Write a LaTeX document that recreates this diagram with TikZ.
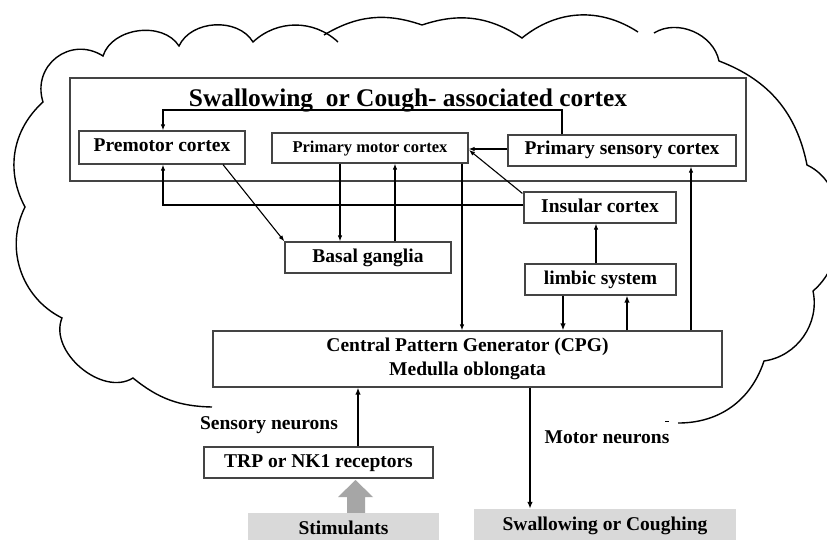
\documentclass[tikz,border=0pt]{standalone}
\usepackage{fontspec}
\setmainfont{Liberation Serif}
\usetikzlibrary{arrows.meta}
\definecolor{boxline}{HTML}{444444}
\definecolor{lightfill}{HTML}{D9D9D9}
\definecolor{arrowfill}{HTML}{A6A6A6}
\begin{document}
\begin{tikzpicture}[x=1pt,y=-1pt,
  cloudline/.style={line width=1.4pt,black},
  boxnode/.style={draw=boxline,line width=1.2pt,inner sep=0pt,
    font=\fontsize{19.5}{25}\selectfont\bfseries,text height=13pt,text depth=4pt},
  graybox/.style={fill=lightfill,inner sep=0pt,
    font=\fontsize{19.5}{25}\selectfont\bfseries,text height=13pt,text depth=4pt},
  lbl/.style={inner sep=0pt,font=\fontsize{19.5}{25}\selectfont\bfseries},
  conn/.style={line width=1.1pt,-{Latex[length=6pt,width=4.5pt]}},
  thickconn/.style={line width=1.8pt,-{Latex[length=7pt,width=5.5pt]}},
  plainline/.style={line width=1.1pt}]
\useasboundingbox (0,0) rectangle (827,540);
\clip (0,0) rectangle (827,540);
\fill[white] (0,0) rectangle (827,540);

% cloud
\draw[cloudline] (212,407) to[bend left=19] (133,378) to[bend left=72] (62,318)
  to[bend left=45] (25,207) to[bend left=38] (43,102)
  to[bend left=70,looseness=1.3] (103,56) to[bend left=65] (179,46)
  to[bend left=62] (253,42) to[bend left=43] (338,42);
\draw[cloudline] (324,35) to[bend left=25] (422,25) to[bend left=26] (522,38)
  to[bend left=36] (638,32);
\draw[cloudline] (654,33) to[bend left=55] (719,61) to[bend left=29] (807,165)
  .. controls (850,185) and (850,260) .. (813,291)
  to[bend left=47] (764,361) to[bend left=36] (678,423);
\draw[line width=0.8pt] (665,421) -- (669,421);

% cortex frame
\node[draw=boxline,line width=1.2pt,minimum width=676pt,minimum height=103pt,inner sep=0pt] (ctx) at (408,129.5) {};
\node[inner sep=0pt,font=\fontsize{25.4}{30}\selectfont\bfseries,anchor=base] (title) at (408,107) {Swallowing\ \ or Cough- associated cortex};

% boxes
\node[boxnode,minimum width=166pt,minimum height=33pt] (pm) at (162,147.5) {Premotor cortex};
\node[boxnode,minimum width=196pt,minimum height=30pt,font=\fontsize{16.5}{20}\selectfont\bfseries] (mc) at (370,148) {Primary motor cortex};
\node[boxnode,minimum width=228pt,minimum height=31pt] (sc) at (622,150.5) {Primary sensory cortex};
\node[boxnode,minimum width=152pt,minimum height=31pt] (ic) at (600,207.5) {Insular cortex};
\node[boxnode,minimum width=166pt,minimum height=31pt] (bg) at (368,257.5) {Basal ganglia};
\node[boxnode,minimum width=151pt,minimum height=31pt] (ls) at (600.5,279.5) {limbic system};
\node[boxnode,minimum width=509pt,minimum height=56pt,align=center,text height=,text depth=] (cpg) at (467.5,359) {Central Pattern Generator (CPG)\\[-0.5pt]Medulla oblongata};
\node[boxnode,minimum width=229pt,minimum height=31pt] (trp) at (318.5,462.5) {TRP or NK1 receptors};
\node[graybox,minimum width=191pt,minimum height=33pt] (stim) at (343.5,529.5) {Stimulants};
\node[graybox,minimum width=262pt,minimum height=34pt] (sw) at (605,526) {Swallowing or Coughing};

% labels
\node[lbl] (sn) at (269,425) {Sensory neurons};
\node[lbl] (mn) at (607,437) {Motor neurons};

% connectors
\draw[conn] (sc.north -| 562,0) -- (562,110) -- (163,110) -- (pm.north -| 163,0);
\draw[conn,line width=1.4pt] (sc.west |- 0,149) -- (mc.east |- 0,149);
\draw[conn] (ic.north west) ++(-1,2) -- (469,150);
\draw[conn] (ic.west |- 0,205) -- (163,205) -- (pm.south -| 163,0);
\draw[conn] (pm.south -| 223,0) -- (bg.north west);
\draw[conn] (mc.south -| 340,0) -- (bg.north -| 340,0);
\draw[conn] (bg.north -| 395,0) -- (mc.south -| 395,0);
\draw[conn] (mc.south -| 462,0) -- (cpg.north -| 462,0);
\draw[conn] (ls.north -| 596,0) -- (ic.south -| 596,0);
\draw[thickconn] (ls.south -| 563,0) -- (cpg.north -| 563,0);
\draw[thickconn] (cpg.north -| 627,0) -- (ls.south -| 627,0);
\draw[conn] (cpg.north -| 691,0) -- (sc.south -| 691,0);
\draw[thickconn] (trp.north -| 358,0) -- (cpg.south -| 358,0);
\draw[thickconn] (cpg.south -| 530,0) -- (sw.north -| 530,0);

% block arrow
\fill[arrowfill] (stim.north -| 347,0) -- (347,497) -- (338,497) -- (355.5,480)
  -- (373,497) -- (365,497) -- (stim.north -| 365,0) -- cycle;
\end{tikzpicture}
\end{document}
